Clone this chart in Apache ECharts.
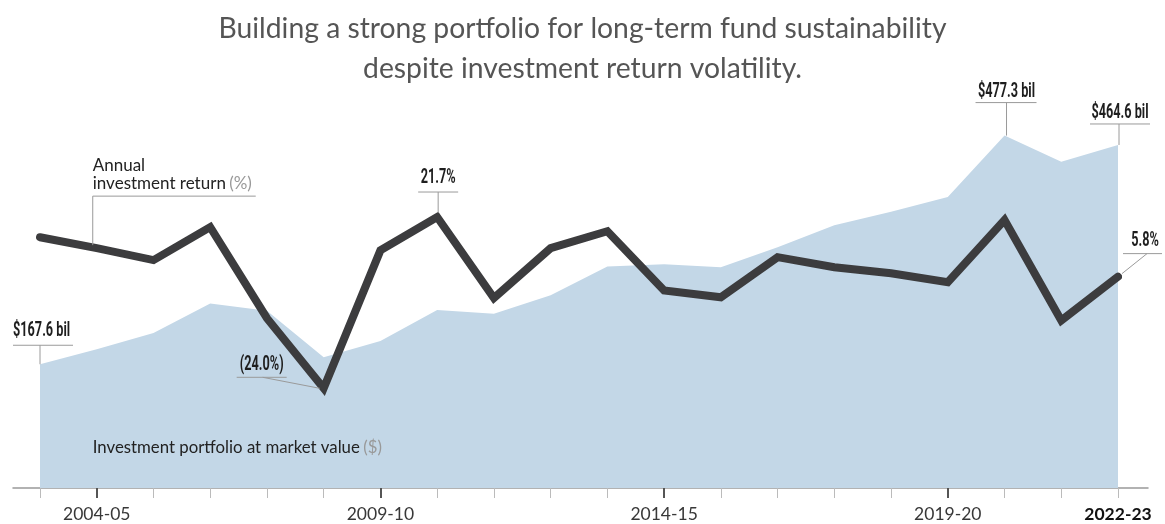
<!DOCTYPE html>
<html><head><meta charset="utf-8">
<script src="https://cdn.jsdelivr.net/npm/echarts@6/dist/echarts.min.js"></script>
<style>html,body{margin:0;padding:0;background:#fff}#c{width:1165px;height:524px}</style>
</head><body><div id="c"></div>
<script>
const years = ['2003-04','2004-05','2005-06','2006-07','2007-08','2008-09','2009-10','2010-11','2011-12','2012-13','2013-14','2014-15','2015-16','2016-17','2017-18','2018-19','2019-20','2020-21','2021-22','2022-23'];
const portfolio = [167.6,188,210,250,240,177,199,241,236,261,300,303,299,326,356,374,394,477.3,442,464.6];
const returns = [16.3,13.4,10.2,19.0,-5.3,-24.0,12.8,21.7,0.1,13.4,17.9,2.1,0.3,11.0,8.3,6.7,4.3,20.9,-5.9,5.8];
const labeledYears = ['2004-05','2009-10','2014-15','2019-20','2022-23'];
const boldYear = '2022-23';
const majorTickYears = ['2004-05','2009-10','2014-15','2019-20'];

const chart = echarts.init(document.getElementById('c'), null, {renderer:'canvas'});
const G = {left:40, right:47, top:45, bottom:36};
chart.setOption({
  animation:false,
  title:{text:'Building a strong portfolio for long-term fund sustainability\ndespite investment return volatility.',
    left:'center', top:4,
    textStyle:{fontFamily:'Lato', fontWeight:'normal', fontSize:28.3, lineHeight:40, color:'#555'}},
  grid:[G, {left:13, right:17, top:45, bottom:36}],
  xAxis:[
    {type:'category', data:years, boundaryGap:false, gridIndex:0, position:'bottom',
     axisLine:{show:false, onZero:false},
     axisTick:{show:true, inside:false, length:10, interval:0, lineStyle:{color:'#bbb', width:1}},
     axisLabel:{interval:0, margin:17, fontFamily:'Lato', fontSize:17.5, color:'#383838',
       formatter:function(v){ if(labeledYears.indexOf(v)<0) return ''; return v===boldYear?'{b|'+v+'}':v; },
       rich:{b:{fontFamily:'Lato', fontSize:17.5, fontWeight:'bold', color:'#111'}}}},
    {type:'category', data:years, boundaryGap:false, gridIndex:0, position:'bottom',
     axisLine:{show:false, onZero:false}, axisLabel:{show:false},
     axisTick:{show:true, length:10, interval:function(i,v){return majorTickYears.indexOf(v)>=0;}, lineStyle:{color:'#555', width:2}}},
    {type:'value', gridIndex:1, min:0, max:1, position:'bottom',
     axisLine:{show:true, onZero:false, lineStyle:{color:'#999', width:1.5}}, axisTick:{show:false}, axisLabel:{show:false}, splitLine:{show:false}}
  ],
  yAxis:[
    {type:'value', gridIndex:0, min:0, max:600, show:false},
    {type:'value', gridIndex:0, min:-50.6, max:67.6, show:false},
    {type:'value', gridIndex:1, show:false}
  ],
  series:[
    {type:'line', name:'portfolio', xAxisIndex:0, yAxisIndex:0, data:portfolio, symbol:'none',
     lineStyle:{width:0}, areaStyle:{color:'#c3d7e7', opacity:1}, z:1},
    {type:'line', name:'return', xAxisIndex:0, yAxisIndex:1, data:returns, symbol:'none',
     lineStyle:{width:8, color:'#3c3c3e', cap:'round', join:'miter'}, z:3}
  ]
});

function px(s, i, v){ return chart.convertToPixel({seriesIndex:s}, [i, v]); }
const boldFont = 'bold 20px "Roboto", sans-serif';
const SX = 0.635;
const lc = '#9a9a9a';
const g = [];
function txt(x,y,t,align){ g.push({type:'text', silent:true, z:10, x:x, y:y, scaleX:SX, style:{x:0,y:0,text:t,textAlign:align||'center',textVerticalAlign:'middle',font:boldFont,fill:'#1e1e1e'}}); }
function ln(x1,y1,x2,y2){ g.push({type:'line', silent:true, z:9, shape:{x1:x1,y1:y1,x2:x2,y2:y2}, style:{stroke:lc, lineWidth:1}}); }

// $167.6 bil
let p = px(0, 0, portfolio[0]);
txt(p[0]-27, p[1]-33, '$167.6 bil', 'left');
ln(p[0]-27, p[1]-19, p[0]+33, p[1]-19); ln(p[0], p[1]-19, p[0], p[1]);
// $477.3 bil
p = px(0, 17, portfolio[17]);
txt(p[0]+2, p[1]-44, '$477.3 bil');
ln(p[0]-29, p[1]-33, p[0]+32, p[1]-33); ln(p[0]+2, p[1]-33, p[0]+2, p[1]);
// $464.6 bil
p = px(0, 19, portfolio[19]);
txt(p[0]+2, p[1]-32, '$464.6 bil');
ln(p[0]-28, p[1]-21, p[0]+32, p[1]-21); ln(p[0]+1, p[1]-21, p[0]+1, p[1]);
// 5.8%
p = px(1, 19, returns[19]);
txt(p[0]+27, p[1]-36, '5.8%');
ln(p[0]+5, p[1]-23, p[0]+44, p[1]-23); ln(p[0]+29, p[1]-23, p[0]+4, p[1]-3);
// 21.7%
p = px(1, 7, returns[7]);
txt(p[0]+1, p[1]-39, '21.7%');
ln(p[0]-19, p[1]-25, p[0]+21, p[1]-25); ln(p[0]+1, p[1]-25, p[0]+1, p[1]-4);
// (24.0%)
p = px(1, 5, returns[5]);
txt(p[0]-62, p[1]-23, '(24.0%)');
ln(p[0]-87, p[1]-11, p[0]-37, p[1]-11); ln(p[0]-61, p[1]-11, p[0]-4, p[1]);
// Annual investment return (%)
p = px(1, 1, returns[1]);
const regFont = '17px "Lato", sans-serif';
g.push({type:'text', silent:true, z:10, style:{x:p[0]-4, y:p[1]-83, text:'Annual', textAlign:'left', textVerticalAlign:'middle', font:regFont, fill:'#222'}});
g.push({type:'text', silent:true, z:10, style:{x:p[0]-4, y:p[1]-65, text:'{a|investment return} {b|(%)}', textAlign:'left', textVerticalAlign:'middle',
  rich:{a:{font:regFont, fill:'#222'}, b:{font:regFont, fill:'#999'}}}});
ln(p[0]-4, p[1]-52, p[0]+159, p[1]-52); ln(p[0]-4, p[1]-52, p[0]-4, p[1]-3);
// Investment portfolio at market value ($)
p = px(0, 1, 0);
g.push({type:'text', silent:true, z:10, style:{x:p[0]-4, y:p[1]-40, text:'{a|Investment portfolio at market value} {b|($)}', textAlign:'left', textVerticalAlign:'middle',
  rich:{a:{font:'16.8px "Lato", sans-serif', fill:'#222'}, b:{font:'16.8px "Lato", sans-serif', fill:'#999'}}}});

chart.setOption({graphic:g});
</script></body></html>
